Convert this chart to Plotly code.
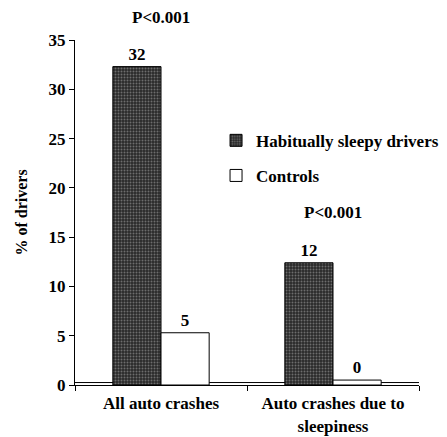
import plotly.graph_objects as go

categories = ["All auto crashes", "Auto crashes due to<br>sleepiness"]
sleepy_values = [32.3, 12.4]
control_values = [5.3, 0.5]
sleepy_labels = ["32", "12"]
control_labels = ["5", "0"]
p_labels = ["P<0.001", "P<0.001"]
p_positions = [1.065, 0.50]
y_ticks = [0, 5, 10, 15, 20, 25, 30, 35]

font_family = "Liberation Serif"
bold = dict(family=font_family, size=17, color="black", weight="bold")

fig = go.Figure()
fig.add_trace(go.Bar(
    x=categories, y=sleepy_values, name="Habitually sleepy drivers",
    legendgroup="sleepy",
    text=sleepy_labels, textposition="outside", textfont=bold,
    marker=dict(color="#2e2e2e", line=dict(color="black", width=1),
                pattern=dict(shape=".", bgcolor="#2a2a2a", fgcolor="#b0b0b0",
                             size=3, solidity=0.35)),
    cliponaxis=False,
))
fig.add_trace(go.Bar(
    x=categories, y=control_values, name="Controls",
    legendgroup="controls",
    text=control_labels, textposition="outside", textfont=bold,
    marker=dict(color="white", line=dict(color="black", width=1)),
    cliponaxis=False,
))

for cat, lab, yp in zip(categories, p_labels, p_positions):
    fig.add_annotation(x=cat, y=yp, text=lab, showarrow=False,
                       xref="x", yref="paper", yanchor="middle", font=bold)

fig.add_shape(type="line", xref="paper", yref="y", x0=0, x1=1, y0=0.25, y1=0.25,
              line=dict(color="black", width=1), layer="below")

fig.update_layout(
    width=439, height=429,
    margin=dict(l=67, r=28, t=32, b=52, autoexpand=False),
    paper_bgcolor="white", plot_bgcolor="white",
    barmode="group", bargap=0.44, bargroupgap=0,
    font=dict(family=font_family, size=17, color="black"),
    showlegend=True,
    legend=dict(x=0.41, y=0.76, xanchor="left", yanchor="top",
                bgcolor="rgba(0,0,0,0)", font=bold, tracegroupgap=10,
                traceorder="grouped"),
    xaxis=dict(showline=True, linecolor="black", linewidth=1, ticks="outside",
               tickson="boundaries", ticklen=5, tickcolor="black",
               tickfont=bold, ticklabelstandoff=3, automargin=False),
    yaxis=dict(range=[0, 35], tickvals=y_ticks, showline=True, linecolor="black",
               linewidth=1, ticks="outside", ticklen=5, tickcolor="black",
               showgrid=False, zeroline=False, tickfont=bold, automargin=False,
               title=dict(text="% of drivers", standoff=16,
                          font=dict(bold, size=16))),
)

fig.write_html("out.html")
